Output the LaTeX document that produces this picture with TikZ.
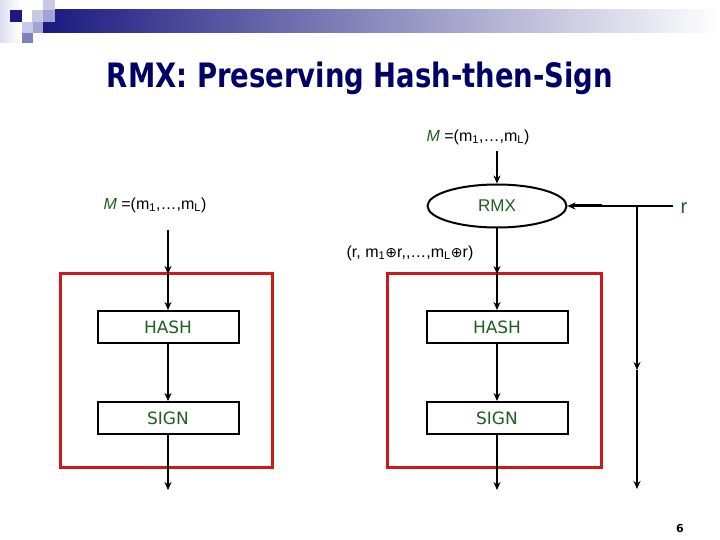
\documentclass[tikz,border=0pt]{standalone}
\usepackage{fontspec}
\setmainfont{DejaVu Sans}
\newfontfamily\lblfont{Liberation Sans}
\newfontfamily\symfont{DejaVu Sans}
\usetikzlibrary{shapes.geometric,arrows.meta}
\definecolor{navy}{HTML}{1A1A80}
\definecolor{titlec}{HTML}{000066}
\definecolor{grn}{HTML}{1F5F1F}
\definecolor{redbox}{HTML}{D01818}
\definecolor{lav1}{HTML}{C8C8E8}
\definecolor{lav2}{HTML}{A4A4D4}
\definecolor{lav3}{HTML}{8080BC}
\tikzset{
  conn/.style={line width=2pt, -{Stealth[length=8pt,width=7pt]}},
  procbox/.style={draw, line width=2pt, minimum width=141pt, minimum height=32pt, inner sep=0pt, text=grn, font=\fontsize{17}{17}\selectfont},
  frame/.style={draw=redbox, line width=3pt},
  lbl/.style={font=\lblfont\fontsize{16}{16}\selectfont, inner sep=0pt}
}
\newcommand{\msg}{{\color{grn}\itshape M} =(m\textsubscript{1},…,m\textsubscript{L})}
\newcommand{\xorsym}{{\symfont\fontsize{14}{14}\selectfont ⊕}}
\begin{document}
\begin{tikzpicture}[x=1pt,y=-1pt]
\useasboundingbox (0,0) rectangle (720,540);
\fill[white] (0,0) rectangle (720,540);
% header decoration
\shade[left color=lav1!60, right color=white] (0,0) rectangle (20,43);
\shade[left color=navy, middle color=black!30!lav1, right color=white] (43,10) rectangle (720,33);
\fill[navy] (10,10) rectangle (22,22);
\fill[lav1] (32,10) rectangle (43,22);
\fill[lav1] (43,0) rectangle (55,10);
\fill[lav2] (43,10) rectangle (55,22);
\fill[lav1] (22,22) rectangle (33,33);
\fill[lav2] (33,22) rectangle (43,33);
\fill[lav3] (22,33) rectangle (33,43);
% title
\node[text=titlec, font=\fontsize{28}{28}\selectfont\bfseries] (title) at (360,78) {\scalebox{0.98}[1.2]{RMX: Preserving Hash-then-Sign}};
% red frames
\draw[frame] (60,273) rectangle (272,467);
\draw[frame] (387,273) rectangle (601,467);
% boxes
\node[procbox] (hashL) at (168,327) {HASH};
\node[procbox] (signL) at (168,418) {SIGN};
\node[procbox] (hashR) at (497,327) {HASH};
\node[procbox] (signR) at (497,418) {SIGN};
% RMX ellipse
\node[ellipse, draw, line width=2pt, minimum width=139pt, minimum height=43pt, text=grn, font=\lblfont\fontsize{17}{17}\selectfont] (rmx) at (497,206) {RMX};
% labels
\node[lbl] (mtop) at (478,137) {\msg};
\node[lbl] (mleft) at (155,205) {\msg};
\node[lbl] (rlbl) at (684,208) {\textcolor{grn}{\fontsize{20}{20}\selectfont r}};
\node[lbl] (xlbl) at (410,253) {(r, m\textsubscript{1}\xorsym r,,…,m\textsubscript{L}\xorsym r)};
\node[font=\fontsize{11}{11}\selectfont\bfseries, inner sep=0pt] (pg) at (680,528) {6};
% coordinates
\coordinate (mtopS) at (497,151);
\coordinate (lstart) at (168,230);
\coordinate (lframe) at (168,274);
\coordinate (lend) at (168,490);
\coordinate (rframe) at (497,274);
\coordinate (rend) at (497,490);
\coordinate (rin) at (673,206);
\coordinate (junc) at (637,206);
\coordinate (jmid) at (637,370);
\coordinate (jend) at (637,489);
\coordinate (thick) at (602,206);
% left chain
\draw[conn] (lstart) -- (lframe);
\draw[conn] (lframe) -- (hashL.north);
\draw[conn] (hashL.south) -- (signL.north);
\draw[conn] (signL.south) -- (lend);
% right chain
\draw[conn] (mtopS) -- (rmx.north);
\draw[conn] (rmx.south) -- (rframe);
\draw[conn] (rframe) -- (hashR.north);
\draw[conn] (hashR.south) -- (signR.north);
\draw[conn] (signR.south) -- (rend);
% r path
\draw[conn] (rin) -- (rmx.east);
\draw[line width=3pt] (rmx.east) ++(6,0) -- (thick);
\draw[conn] (junc) -- (jmid);
\draw[conn] (jmid) -- (jend);
\end{tikzpicture}
\end{document}
